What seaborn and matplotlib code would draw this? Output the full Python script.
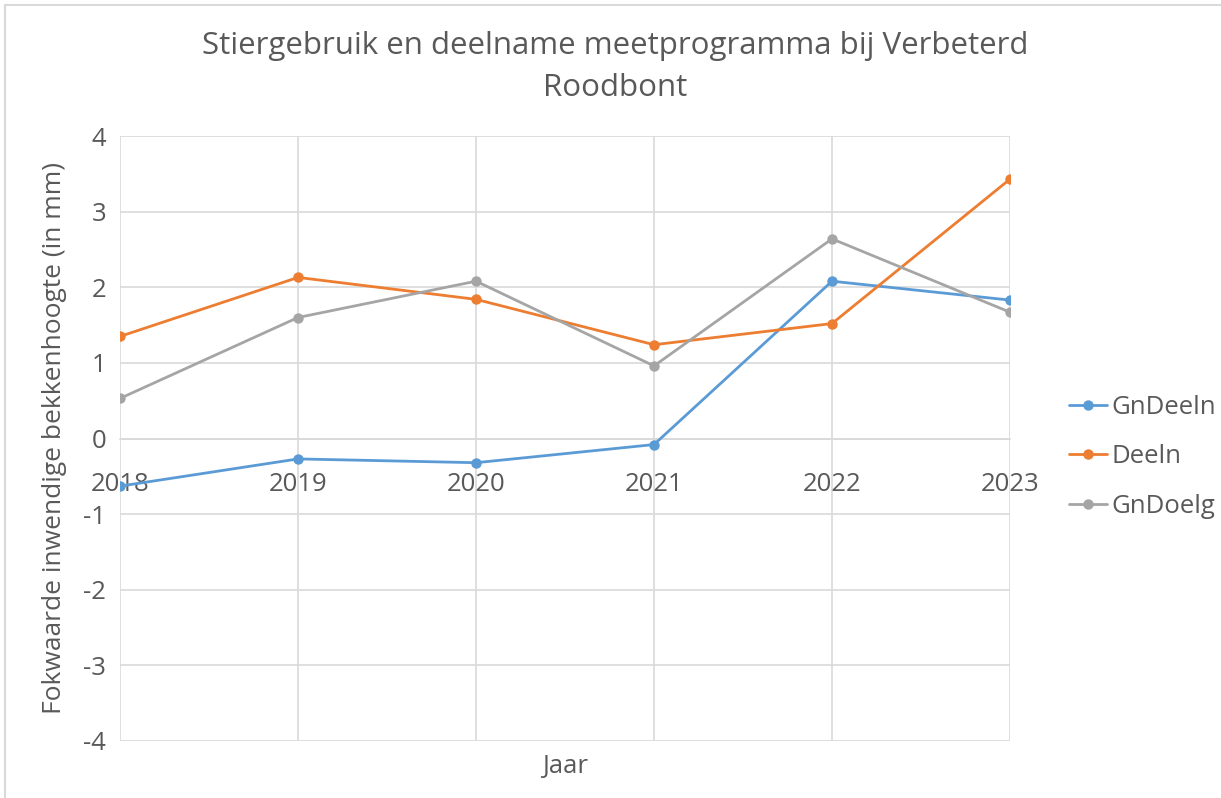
import matplotlib
matplotlib.use("Agg")
import matplotlib.pyplot as plt
import seaborn as sns
import pandas as pd
from matplotlib.patches import Rectangle

years = [2018, 2019, 2020, 2021, 2022, 2023]
series_names = ["GnDeeln", "Deeln", "GnDoelg"]
gndeeln = [-0.63, -0.27, -0.32, -0.08, 2.08, 1.83]
deeln = [1.35, 2.13, 1.84, 1.24, 1.52, 3.43]
gndoelg = [0.53, 1.60, 2.08, 0.96, 2.64, 1.67]
colors = ["#5B9BD5", "#ED7D31", "#A5A5A5"]
title = "Stiergebruik en deelname meetprogramma bij Verbeterd\nRoodbont"
xlabel = "Jaar"
ylabel = "Fokwaarde inwendige bekkenhoogte (in mm)"
yticks = [-4, -3, -2, -1, 0, 1, 2, 3, 4]

df = pd.DataFrame({
    "Jaar": years * 3,
    "Waarde": gndeeln + deeln + gndoelg,
    "Reeks": [s for s in series_names for _ in years],
})
df["pos"] = df["Jaar"].map({y: i for i, y in enumerate(years)})

sns.set_theme(style="white")
plt.rcParams["font.family"] = ["Open Sans", "DejaVu Sans"]
txt = "#595959"
grid = "#D9D9D9"
fs = 18.5

fig = plt.figure(figsize=(12.21, 7.98), dpi=100)
ax = fig.add_axes([120/1221, 1 - 741/798, (1010-120)/1221, (741-136)/798])

sns.lineplot(data=df, x="pos", y="Waarde", hue="Reeks", hue_order=series_names,
             palette=colors, marker="o", markersize=7.5, markeredgewidth=0,
             linewidth=2.0, ax=ax, legend=True)

for s in ["top", "right", "left"]:
    ax.spines[s].set_visible(False)
ax.spines["bottom"].set_position(("data", 0))
ax.spines["bottom"].set_color(grid)
ax.spines["bottom"].set_linewidth(1.2)
ax.spines["bottom"].set_zorder(0.5)

ax.set_xlim(0, len(years) - 1)
ax.set_ylim(-4, 4)
ax.set_yticks(yticks)
ax.set_yticklabels([str(v) for v in yticks], fontsize=fs, color=txt)
ax.set_xticks(range(len(years)))
ax.set_xticklabels([str(y) for y in years], fontsize=fs, color=txt)
ax.tick_params(axis="both", length=0)
ax.tick_params(axis="y", pad=10)
ax.tick_params(axis="x", pad=24)
ax.grid(True, color=grid, linewidth=1.2)
ax.set_axisbelow(True)

ax.set_xlabel("")
ax.set_ylabel(ylabel, fontsize=19, color=txt, labelpad=12)
fig.text(565/1221, 1 - 767/798, xlabel, ha="center", va="center", fontsize=fs, color=txt)
fig.text(615/1221, 1 - 67/798, title, ha="center", va="center", fontsize=22.5,
         color=txt, linespacing=1.5)

leg = ax.legend(loc="center left", bbox_to_anchor=(1.04, 0.47), frameon=False,
                fontsize=fs, handlelength=1.5, handletextpad=0.15, labelspacing=0.95)
for t in leg.get_texts():
    t.set_color(txt)

fig.patches.append(Rectangle((5/1221, -0.1), 1.2, 1 - 5/798 + 0.1, transform=fig.transFigure,
                             fill=False, edgecolor="#D9D9D9", linewidth=1.5))

fig.savefig("out.png", dpi=100, facecolor="white")
